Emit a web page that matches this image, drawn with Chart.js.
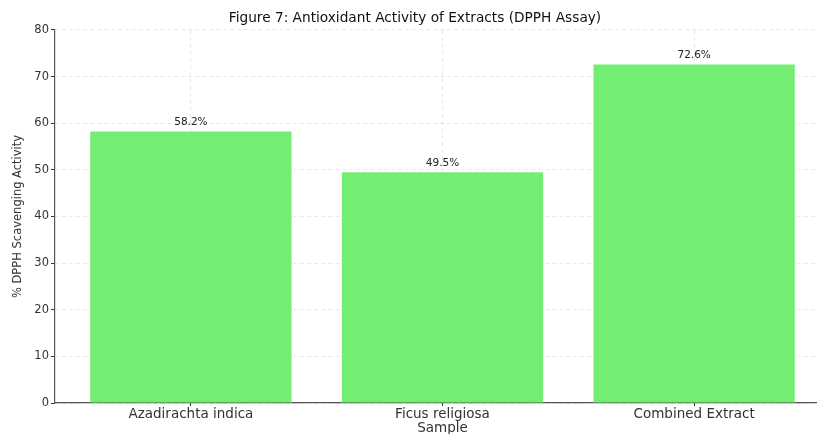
<!DOCTYPE html>
<html>
<head>
<meta charset="utf-8">
<script src="https://cdn.jsdelivr.net/npm/chart.js@4.4.1/dist/chart.umd.min.js"></script>
<style>
  html, body { margin: 0; padding: 0; background: #fff; overflow: hidden; }
  #wrap { width: 840px; height: 434px; }
</style>
</head>
<body>
<div id="wrap"><canvas id="chart"></canvas></div>
<script>
// Chart data
const samples = ['Azadirachta indica', 'Ficus religiosa', 'Combined Extract'];
const dpphActivity = [58.2, 49.5, 72.6];
const yTicks = [0, 10, 20, 30, 40, 50, 60, 70, 80];

const FONT = '"DejaVu Sans", sans-serif';
const BAR_COLOR = '#73ee73';
const GRID = 'rgba(0, 0, 0, 0.09)';

// value labels above each bar
const valueLabels = {
  id: 'valueLabels',
  afterDatasetsDraw(chart) {
    const ctx = chart.ctx;
    const meta = chart.getDatasetMeta(0);
    ctx.save();
    ctx.font = '10.5px ' + FONT;
    ctx.fillStyle = '#222';
    ctx.textAlign = 'center';
    ctx.textBaseline = 'bottom';
    meta.data.forEach((bar, i) => {
      ctx.fillText(dpphActivity[i].toFixed(1) + '%', bar.x, bar.y - 4);
    });
    ctx.restore();
  }
};

new Chart(document.getElementById('chart'), {
  type: 'bar',
  data: {
    datasets: [{
      data: dpphActivity.map((v, i) => ({ x: i, y: v })),
      backgroundColor: BAR_COLOR,
      borderWidth: 0,
      barPercentage: 0.8,
      categoryPercentage: 1
    }]
  },
  options: {
    responsive: true,
    maintainAspectRatio: false,
    animation: false,
    layout: { padding: { left: 0, right: 10, top: 0, bottom: 0 } },
    plugins: {
      legend: { display: false },
      tooltip: { enabled: false },
      title: {
        display: true,
        text: 'Figure 7: Antioxidant Activity of Extracts (DPPH Assay)',
        color: '#111',
        font: { family: FONT, size: 13.7, weight: 'normal' },
        padding: { top: 10, bottom: 3.5 }
      }
    },
    scales: {
      x: {
        type: 'linear',
        min: -0.54,
        max: 2.54,
        offset: false,
        z: 1,
        afterBuildTicks: (s) => { s.ticks = samples.map((_, i) => ({ value: i })); },
        afterFit: (s) => { s.height = 31; },
        ticks: {
          callback: (v) => samples[v],
          color: '#333',
          font: { family: FONT, size: 13.5 },
          padding: 0,
          maxRotation: 0
        },
        grid: { offset: false, color: GRID, tickColor: '#333', tickLength: 3 },
        border: { color: '#555', width: 1.2, dash: [4, 3] },
        title: {
          display: true,
          text: 'Sample',
          color: '#333',
          font: { family: FONT, size: 13.5 },
          padding: { top: 0, bottom: -3 }
        }
      },
      y: {
        min: 0,
        max: 80,
        z: 1,
        afterBuildTicks: (s) => { s.ticks = yTicks.map(v => ({ value: v })); },
        afterFit: (s) => { s.width = 55; },
        ticks: {
          color: '#333',
          font: { family: FONT, size: 11.5 },
          padding: 2
        },
        grid: { color: GRID, tickColor: '#333', tickLength: 4 },
        border: { color: '#555', width: 1.2, dash: [4, 3] },
        title: {
          display: true,
          text: '% DPPH Scavenging Activity',
          color: '#333',
          font: { family: FONT, size: 11.5 },
          padding: { top: 11, bottom: 0 }
        }
      }
    }
  },
  plugins: [valueLabels]
});
</script>
</body>
</html>
